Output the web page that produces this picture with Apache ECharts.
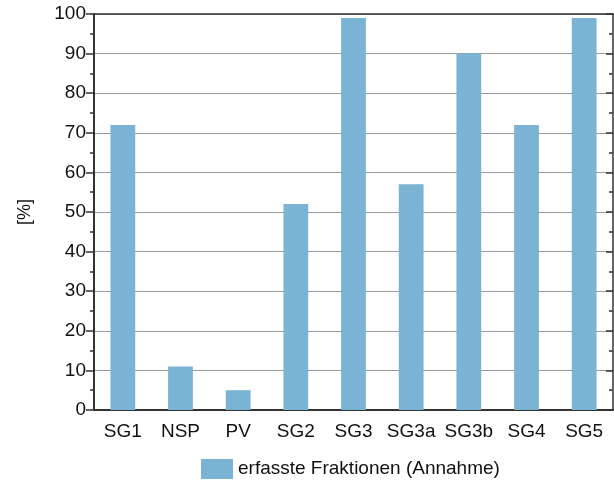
<!DOCTYPE html>
<html><head><meta charset="utf-8">
<script src="https://cdn.jsdelivr.net/npm/echarts@6/dist/echarts.min.js"></script>
<style>html,body{margin:0;padding:0;background:#fff}#c{width:614px;height:481px}</style>
</head><body><div id="c"></div>
<script>
const categories = ['SG1','NSP','PV','SG2','SG3','SG3a','SG3b','SG4','SG5'];
const values = [72, 11, 5, 52, 99, 57, 90, 72, 99];
const seriesName = 'erfasste Fraktionen (Annahme)';
const yTicks = [0,10,20,30,40,50,60,70,80,90,100];

const font = 'Liberation Sans, Arial, sans-serif';
const axisCol = '#333';
const chart = echarts.init(document.getElementById('c'));
const hiddenLabels = {show:false};
chart.setOption({
  animation:false,
  grid:{left:94, right:1, top:14, bottom:71},
  legend:{
    data:[{name:seriesName, icon:'rect'}], bottom:2, left:201, padding:0,
    itemWidth:32, itemHeight:20, itemGap:6,
    textStyle:{fontFamily:font, fontSize:19, color:'#111'}
  },
  xAxis:[
    {type:'category', data:categories, position:'bottom',
     axisLine:{lineStyle:{color:axisCol, width:2}},
     axisTick:{alignWithLabel:true, interval:0, length:7, lineStyle:{color:axisCol, width:1.5}},
     axisLabel:{interval:0, fontFamily:font, fontSize:19, color:'#111', margin:12}},
    {type:'category', data:categories, position:'bottom',
     axisLine:{show:false},
     axisTick:{interval:0, length:4, lineStyle:{color:axisCol, width:1.5}},
     axisLabel:hiddenLabels},
    {type:'category', data:categories, position:'top',
     axisLine:{lineStyle:{color:axisCol, width:1.5}},
     axisTick:{alignWithLabel:true, interval:0, inside:true, length:7, lineStyle:{color:axisCol, width:1.5}},
     axisLabel:hiddenLabels},
    {type:'category', data:categories, position:'top',
     axisLine:{show:false},
     axisTick:{interval:0, inside:true, length:4, lineStyle:{color:axisCol, width:1.5}},
     axisLabel:hiddenLabels}
  ],
  yAxis:[
    {type:'value', min:yTicks[0], max:yTicks[yTicks.length-1], interval:10, position:'left',
     name:'[%]', nameLocation:'middle', nameGap:60, nameRotate:90,
     nameTextStyle:{fontFamily:font, fontSize:18, color:'#111'},
     axisLine:{show:true, lineStyle:{color:axisCol, width:2}},
     axisTick:{show:true, length:8, lineStyle:{color:axisCol, width:1.5}},
     minorTick:{show:true, splitNumber:2, length:4, lineStyle:{color:axisCol, width:1.5}},
     axisLabel:{fontFamily:font, fontSize:19, color:'#111', margin:8},
     splitLine:{show:true, lineStyle:{color:'#9a9a9a', width:1}}},
    {type:'value', min:yTicks[0], max:yTicks[yTicks.length-1], interval:10, position:'right',
     axisLine:{show:true, lineStyle:{color:axisCol, width:1.5}},
     axisTick:{show:true, inside:true, length:7, lineStyle:{color:axisCol, width:1.5}},
     minorTick:{show:true, splitNumber:2, length:4, lineStyle:{color:axisCol, width:1.5}},
     axisLabel:hiddenLabels, splitLine:{show:false}}
  ],
  series:[{
    name:seriesName, type:'bar', data:values, xAxisIndex:0, yAxisIndex:0,
    barWidth:'43%', itemStyle:{color:'#7bb3d5'}
  }]
});
</script></body></html>
